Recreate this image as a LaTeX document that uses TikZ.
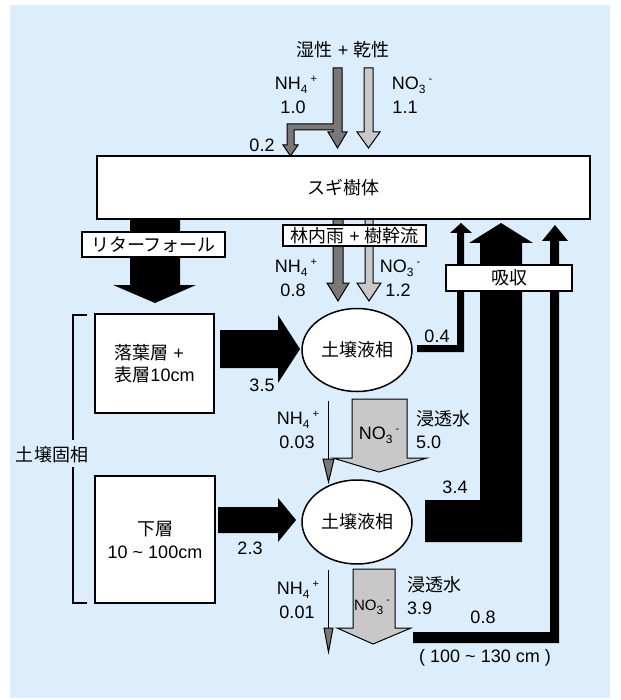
\documentclass[tikz,border=0pt]{standalone}
\usepackage{fontspec}
\setmainfont{Liberation Sans}
\newfontfamily\jp{Noto Sans CJK JP}
\usetikzlibrary{shapes.geometric}
\definecolor{bgblue}{RGB}{220,238,252}
\definecolor{darkg}{RGB}{120,120,120}
\definecolor{lightg}{RGB}{200,200,200}
\newcommand\ionlbl[3]{#1\raisebox{-4pt}{\fontsize{12}{12}\selectfont #2}\hspace{3pt}\raisebox{7pt}{\fontsize{11}{11}\selectfont #3}}
\begin{document}
\begin{tikzpicture}[x=1pt,y=-1pt,
  every node/.style={font=\fontsize{18}{22}\selectfont, inner sep=0pt},
  wbox/.style={draw=black, line width=1.5pt, fill=white},
  ell/.style={ellipse, draw=black, line width=1.5pt, fill=white, minimum width=110pt, minimum height=83pt},
  darr/.style={fill=darkg, draw=black, line width=1pt, line join=miter},
  larr/.style={fill=lightg, draw=black, line width=1pt, line join=miter},
  blk/.style={fill=black},
  thin/.style={draw=black, line width=1.2pt}]
\useasboundingbox (0,0) rectangle (620,700);
\fill[bgblue] (10,5) rectangle (610,698);

% deposition arrows
\node (wetdry) at (343,50) {{\jp 湿性} + {\jp 乾性}};
\draw[darr] (333,68) -- (342,68) -- (342,132) -- (347,132) -- (337.5,148) -- (328,132) -- (333,132) -- (333,130) -- (294,130) -- (294,145) -- (298,145) -- (290.5,156) -- (283,145) -- (287,145) -- (287,124) -- (333,124) -- cycle;
\draw[larr] (364,68) -- (373,68) -- (373,132) -- (380,132) -- (368.5,148) -- (357,132) -- (364,132) -- cycle;
\node (nh4a) at (296,85) {\ionlbl{NH}{4}{+}};
\node (nh4av) at (293,107) {1.0};
\node (no3a) at (412,85) {\ionlbl{NO}{3}{-}};
\node (no3av) at (405,107) {1.1};
\node (v02) at (262,145) {0.2};

% throughfall arrows
\draw[darr] (333,219) -- (343,219) -- (343,283) -- (349,283) -- (338,301) -- (327,283) -- (333,283) -- cycle;
\draw[larr] (365,219) -- (373,219) -- (373,283) -- (381,283) -- (369,301) -- (357,283) -- (365,283) -- cycle;
\node (nh4b) at (296,268) {\ionlbl{NH}{4}{+}};
\node (nh4bv) at (293,290) {0.8};
\node (no3b) at (400,268) {\ionlbl{NO}{3}{-}};
\node (no3bv) at (398,290) {1.2};

% litterfall
\fill[blk] (130,219) -- (180,219) -- (180,285) -- (196,285) -- (155,303) -- (113,285) -- (130,285) -- cycle;

% uptake arrows
\fill[blk] (417,345) -- (457,345) -- (457,233) -- (450,233) -- (461,223) -- (472,233) -- (464,233) -- (464,352) -- (417,352) -- cycle;
\fill[blk] (425,500) -- (480,500) -- (480,243) -- (469,243) -- (501,223) -- (533,243) -- (522,243) -- (522,542) -- (425,542) -- cycle;
\fill[blk] (413,632) -- (550,632) -- (550,241) -- (542,241) -- (555,225) -- (568,241) -- (559,241) -- (559,643) -- (413,643) -- cycle;
\node (v04) at (437,336) {0.4};
\node (v34) at (455,487) {3.4};
\node (v08) at (483,617) {0.8};
\node (depth) at (485,658) {( 100 \textasciitilde{} 130 cm )};

% mineralisation arrows
\fill[blk] (220,330) -- (278,330) -- (278,315) -- (300,349) -- (278,383) -- (278,368) -- (220,368) -- cycle;
\node (v35) at (262,385) {3.5};
\fill[blk] (218,507) -- (278,507) -- (278,498) -- (296,520) -- (278,542) -- (278,533) -- (218,533) -- cycle;
\node (v23) at (250,548) {2.3};

% leaching (middle)
\draw[thin] (328.5,401) -- (328.5,459);
\draw[darr] (323,459) -- (334,459) -- (328.5,482) -- cycle;
\node (nh4c) at (298,420) {\ionlbl{NH}{4}{+}};
\node (nh4cv) at (297,442) {0.03};
\draw[larr] (352,399) -- (407,399) -- (407,458) -- (427,458) -- (379,472) -- (333,458) -- (352,458) -- cycle;
\node (no3c) at (379,435) {\ionlbl{NO}{3}{-}};
\node[anchor=west] (perc1) at (416,419) {\jp 浸透水};
\node[anchor=west] (perc1v) at (416,442) {5.0};

% leaching (bottom)
\draw[thin] (328.5,570) -- (328.5,628);
\draw[darr] (324,628) -- (333,628) -- (328.5,652) -- cycle;
\node (nh4d) at (298,590) {\ionlbl{NH}{4}{+}};
\node (nh4dv) at (297,612) {0.01};
\draw[larr] (353,569) -- (395,569) -- (395,628) -- (411,628) -- (373,644) -- (337,628) -- (353,628) -- cycle;
\node[font=\fontsize{15}{18}\selectfont] (no3d) at (372,607) {\ionlbl{NO}{3}{-}};
\node[anchor=west] (perc2) at (407,585) {\jp 浸透水};
\node[anchor=west] (perc2v) at (407,608) {3.9};

% boxes
\node[wbox, minimum width=493pt, minimum height=63pt] (tree) at (343.5,187.5) {\jp スギ樹体};
\node[wbox, minimum width=143pt, minimum height=21pt] (tf) at (354.5,235.5) {{\jp 林内雨} + {\jp 樹幹流}};
\node[wbox, minimum width=143pt, minimum height=25pt] (litter) at (153.5,244.5) {\jp リターフォール};
\node[wbox, minimum width=126pt, minimum height=26pt] (uptake) at (509,278) {\jp 吸収};
\node[wbox, minimum width=119pt, minimum height=99pt, align=left, font=\fontsize{18}{22}\selectfont] (top) at (154.5,363.5) {{\jp 落葉層} +\\{\jp 表層}10cm};
\node[wbox, minimum width=120pt, minimum height=127pt, align=center, font=\fontsize{18}{23}\selectfont] (sub) at (155,539.5) {{\jp 下層}\\10 \textasciitilde{} 100cm};
\node[ell] (liq1) at (357,350) {\jp 土壌液相};
\node[ell, minimum height=84pt] (liq2) at (357,522) {\jp 土壌液相};

% bracket
\draw[line width=1.2pt] (87,315) -- (73,315) -- (73,440);
\draw[line width=1.2pt] (73,467) -- (73,603) -- (87,603);
\node (solid) at (52,455) {\jp 土壌固相};
\end{tikzpicture}
\end{document}
